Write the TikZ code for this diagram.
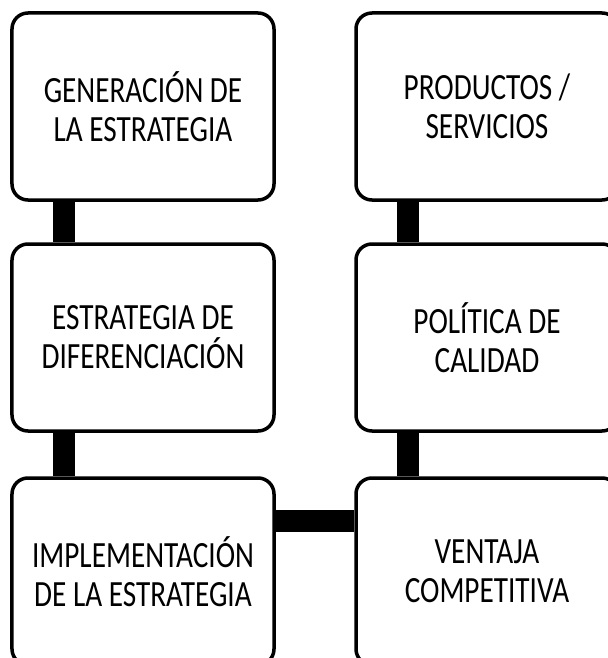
\documentclass[tikz,border=0pt]{standalone}
\usepackage{fontspec}
\setmainfont{Carlito}
\newfontfamily\boxfont{Carlito}[FakeStretch=0.79]
\begin{document}
\begin{tikzpicture}[x=1bp,y=-1bp,
  box/.style={draw=black,line width=3.5bp,rounded corners=16bp,fill=white,
    minimum width=262bp,minimum height=187bp,inner sep=0pt,align=center,
    font=\boxfont\fontsize{37bp}{39bp}\selectfont},
  conn/.style={line width=22bp,black}]
\useasboundingbox (0,0) rectangle (608,658);
\clip (0,0) rectangle (608,658);
\fill[white] (0,0) rectangle (608,658);
\node[box] (g) at (143,106.5) {GENERACIÓN DE\\LA ESTRATEGIA};
\node[box] (e) at (143,337.5) {ESTRATEGIA DE\\DIFERENCIACIÓN};
\node[box] (i) at (143,571.5) {IMPLEMENTACIÓN\\DE LA ESTRATEGIA};
\node[box] (p) at (487,106.5) {PRODUCTOS /\\SERVICIOS};
\node[box] (c) at (487,337.5) {POLÍTICA DE\\CALIDAD};
\node[box] (v) at (487,571.5) {VENTAJA\\COMPETITIVA};
\draw[conn] ([xshift=54bp]g.south west) -- ([xshift=54bp]e.north west);
\draw[conn] ([xshift=54bp]e.south west) -- ([xshift=54bp]i.north west);
\draw[conn] ([xshift=53.5bp]p.south west) -- ([xshift=53.5bp]c.north west);
\draw[conn] ([xshift=53.5bp]c.south west) -- ([xshift=53.5bp]v.north west);
\draw[conn] ([yshift=-45bp]i.north east) -- ([yshift=-45bp]v.north west);
\end{tikzpicture}
\end{document}
